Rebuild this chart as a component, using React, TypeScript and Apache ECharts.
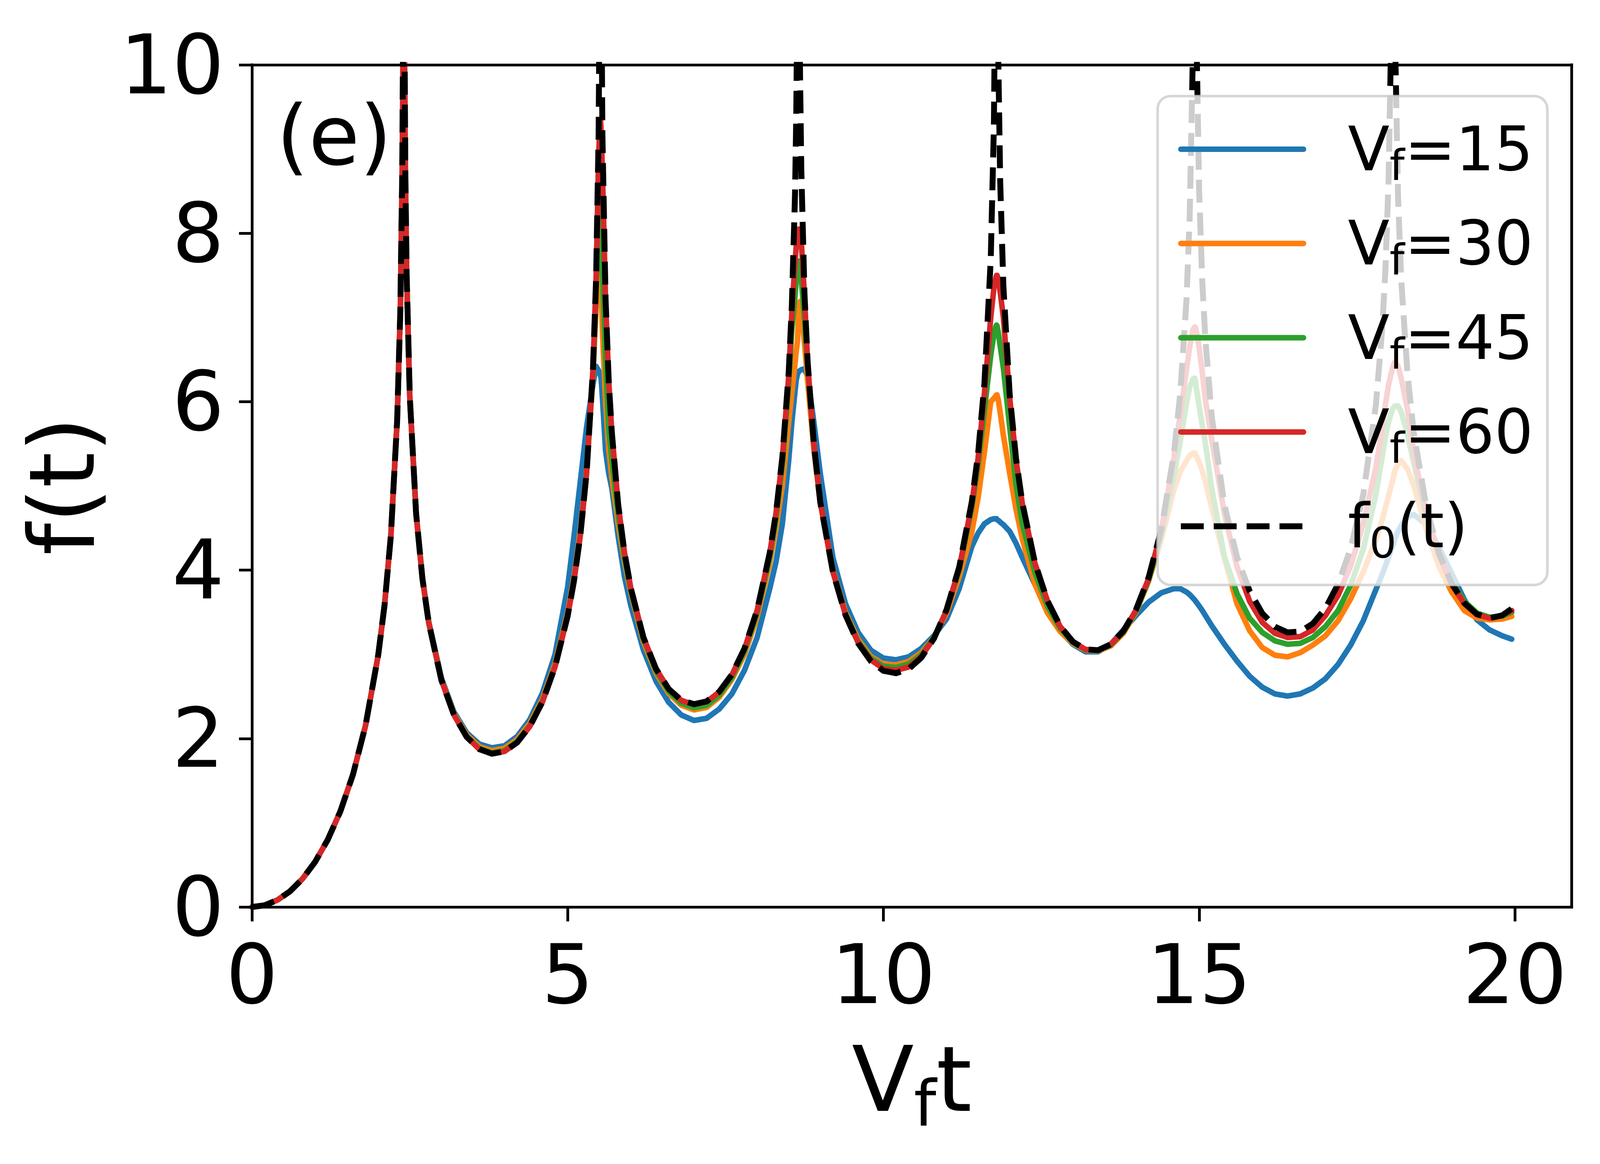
import React, { useEffect, useRef } from "react";
import * as echarts from "echarts";

// Time grid (V_f t)
const T = [
  0, 0.2, 0.4, 0.6, 0.8, 1.0, 1.2, 1.4, 1.6, 1.8,
  2.0, 2.1, 2.2, 2.3, 2.35, 2.38, 2.395, 2.405, 2.415, 2.43,
  2.45, 2.5, 2.6, 2.7, 2.8, 3.0, 3.2, 3.4, 3.6, 3.8,
  4.0, 4.2, 4.4, 4.6, 4.8, 5.0, 5.1, 5.2, 5.3, 5.4,
  5.45, 5.49, 5.51, 5.52, 5.53, 5.55, 5.6, 5.65, 5.7, 5.8,
  5.9, 6.0, 6.2, 6.4, 6.6, 6.8, 7.0, 7.2, 7.4, 7.6,
  7.8, 8.0, 8.2, 8.3, 8.4, 8.5, 8.55, 8.6, 8.62, 8.64,
  8.654, 8.66, 8.68, 8.7, 8.75, 8.8, 8.9, 9.0, 9.2, 9.4,
  9.6, 9.8, 10.0, 10.2, 10.4, 10.6, 10.8, 11.0, 11.2, 11.4,
  11.5, 11.6, 11.7, 11.75, 11.78, 11.792, 11.8, 11.82, 11.85, 11.9,
  12.0, 12.1, 12.2, 12.4, 12.6, 12.8, 13.0, 13.2, 13.4, 13.6,
  13.8, 14.0, 14.2, 14.4, 14.6, 14.7, 14.8, 14.85, 14.9, 14.931,
  14.94, 14.96, 15.0, 15.05, 15.1, 15.2, 15.4, 15.6, 15.8, 16.0,
  16.2, 16.4, 16.6, 16.8, 17.0, 17.2, 17.4, 17.6, 17.8, 17.9,
  17.95, 18.0, 18.04, 18.071, 18.08, 18.1, 18.15, 18.2, 18.3, 18.4,
  18.6, 18.8, 19.0, 19.2, 19.4, 19.6, 19.8, 19.95,
];

// f0(t), black dashed
const F0 = [
  0, 0.020, 0.081, 0.184, 0.334, 0.535, 0.798, 1.135, 1.573, 2.158,
  2.993, 3.584, 4.408, 5.781, 7.08, 8.70, 10.56, 16, 10.48, 8.67,
  7.51, 6.057, 4.670, 3.898, 3.374, 2.694, 2.279, 2.020, 1.874, 1.820,
  1.847, 1.953, 2.144, 2.434, 2.851, 3.456, 3.871, 4.409, 5.157, 6.378,
  7.453, 9.16, 11.35, 16, 11.39, 9.18, 7.226, 6.252, 5.630, 4.779,
  4.207, 3.786, 3.201, 2.827, 2.589, 2.455, 2.408, 2.441, 2.556, 2.760,
  3.070, 3.525, 4.204, 4.685, 5.343, 6.343, 7.140, 8.450, 9.39, 11.19,
  16, 12.74, 9.88, 8.75, 7.288, 6.476, 5.488, 4.808, 3.979, 3.466,
  3.131, 2.920, 2.805, 2.776, 2.826, 2.960, 3.187, 3.530, 4.034, 4.811,
  5.386, 6.219, 7.694, 9.276, 11.84, 16, 12.47, 10.04, 8.604, 7.375,
  6.087, 5.328, 4.799, 4.087, 3.633, 3.335, 3.151, 3.059, 3.049, 3.120,
  3.276, 3.531, 3.913, 4.479, 5.380, 6.088, 7.217, 8.179, 10.10, 16,
  12.56, 10.23, 8.506, 7.423, 6.730, 5.822, 4.774, 4.154, 3.750, 3.487,
  3.329, 3.260, 3.271, 3.364, 3.546, 3.832, 4.258, 4.899, 5.966, 6.877,
  7.566, 8.631, 10.29, 16, 12.78, 10.43, 8.431, 7.455, 6.324, 5.624,
  4.743, 4.198, 3.840, 3.609, 3.476, 3.429, 3.463, 3.542,
];

// V_f = 15 (blue)
const VF15 = [
  0, 0.020, 0.081, 0.184, 0.334, 0.535, 0.798, 1.135, 1.573, 2.158,
  2.993, 3.584, 4.408, 5.781, 7.08, 8.70, 10.1, 10.4, 10.1, 8.6,
  7.48, 6.05, 4.68, 3.91, 3.39, 2.72, 2.315, 2.07, 1.935, 1.89,
  1.915, 2.025, 2.225, 2.54, 3.0, 3.8, 4.4, 5.05, 5.7, 6.2,
  6.42, 6.37, 6.33, 6.31, 6.28, 6.05, 5.42, 5.15, 4.97, 4.4,
  3.92, 3.58, 3.05, 2.68, 2.43, 2.28, 2.215, 2.24, 2.35, 2.53,
  2.81, 3.2, 3.78, 4.1, 4.55, 5.3, 5.75, 6.12, 6.26, 6.33,
  6.35, 6.36, 6.37, 6.38, 6.39, 6.3, 5.75, 5.15, 4.15, 3.6,
  3.26, 3.05, 2.955, 2.935, 2.97, 3.07, 3.22, 3.42, 3.78, 4.28,
  4.44, 4.55, 4.6, 4.61, 4.61, 4.61, 4.6, 4.59, 4.57, 4.54,
  4.46, 4.32, 4.15, 3.83, 3.52, 3.28, 3.12, 3.03, 3.03, 3.12,
  3.29, 3.46, 3.62, 3.73, 3.78, 3.78, 3.74, 3.71, 3.67, 3.645,
  3.635, 3.615, 3.575, 3.52, 3.46, 3.34, 3.12, 2.92, 2.74, 2.61,
  2.53, 2.505, 2.53, 2.6, 2.71, 2.88, 3.11, 3.4, 3.77, 3.95,
  4.05, 4.15, 4.24, 4.3, 4.32, 4.37, 4.46, 4.53, 4.63, 4.66,
  4.54, 4.27, 3.96, 3.65, 3.41, 3.29, 3.22, 3.18,
];

// V_f = 30 (orange)
const VF30 = [
  0, 0.020, 0.081, 0.184, 0.334, 0.535, 0.798, 1.135, 1.573, 2.158,
  2.993, 3.584, 4.408, 5.781, 7.08, 8.70, 10.2, 10.6, 10.2, 8.65,
  7.5, 6.05, 4.67, 3.9, 3.38, 2.705, 2.295, 2.045, 1.905, 1.856,
  1.884, 1.99, 2.18, 2.47, 2.89, 3.5, 3.92, 4.46, 5.18, 6.3,
  7.1, 7.6, 7.72, 7.6, 7.35, 6.85, 6.0, 5.45, 5.1, 4.55,
  4.1, 3.73, 3.15, 2.775, 2.535, 2.395, 2.34, 2.37, 2.49, 2.70,
  3.0, 3.44, 4.08, 4.5, 5.0, 5.75, 6.1, 6.45, 6.6, 6.72,
  6.98, 7.1, 7.19, 7.08, 6.7, 6.25, 5.42, 4.8, 4.0, 3.5,
  3.18, 2.975, 2.885, 2.875, 2.915, 3.02, 3.2, 3.49, 3.92, 4.45,
  4.86, 5.4, 6.0, 6.04, 6.07, 6.08, 6.08, 6.02, 5.87, 5.6,
  5.15, 4.72, 4.37, 3.83, 3.49, 3.27, 3.13, 3.05, 3.04, 3.1,
  3.25, 3.5, 3.87, 4.36, 4.95, 5.17, 5.3, 5.36, 5.39, 5.39,
  5.38, 5.35, 5.28, 5.18, 5.05, 4.74, 4.14, 3.6, 3.28, 3.08,
  2.99, 2.97, 3.02, 3.11, 3.22, 3.4, 3.66, 3.98, 4.36, 4.6,
  4.74, 4.88, 5.0, 5.08, 5.12, 5.18, 5.26, 5.3, 5.2, 5.0,
  4.48, 4.04, 3.74, 3.52, 3.43, 3.41, 3.42, 3.45,
];

// V_f = 45 (green)
const VF45 = [
  0, 0.020, 0.081, 0.184, 0.334, 0.535, 0.798, 1.135, 1.573, 2.158,
  2.993, 3.584, 4.408, 5.781, 7.08, 8.70, 10.3, 11.0, 10.3, 8.67,
  7.51, 6.057, 4.670, 3.898, 3.375, 2.697, 2.284, 2.027, 1.882, 1.830,
  1.857, 1.963, 2.155, 2.445, 2.862, 3.47, 3.885, 4.42, 5.16, 6.35,
  7.3, 8.1, 8.38, 8.35, 8.15, 7.6, 6.5, 5.68, 5.3, 4.65,
  4.15, 3.76, 3.18, 2.80, 2.56, 2.42, 2.365, 2.395, 2.515, 2.725,
  3.04, 3.49, 4.15, 4.62, 5.25, 6.2, 6.85, 7.25, 7.45, 7.6,
  7.66, 7.67, 7.62, 7.45, 6.98, 6.42, 5.49, 4.81, 3.99, 3.48,
  3.155, 2.955, 2.86, 2.845, 2.885, 2.995, 3.2, 3.52, 4.0, 4.74,
  5.25, 5.9, 6.55, 6.8, 6.89, 6.91, 6.9, 6.82, 6.66, 6.4,
  5.7, 5.02, 4.55, 3.97, 3.57, 3.31, 3.14, 3.055, 3.045, 3.11,
  3.265, 3.51, 3.88, 4.42, 5.12, 5.52, 5.98, 6.17, 6.27, 6.28,
  6.25, 6.14, 5.95, 5.72, 5.5, 4.97, 4.16, 3.72, 3.43, 3.26,
  3.16, 3.12, 3.13, 3.2, 3.33, 3.52, 3.82, 4.25, 4.9, 5.35,
  5.58, 5.76, 5.86, 5.92, 5.93, 5.95, 5.95, 5.88, 5.61, 5.27,
  4.62, 4.17, 3.86, 3.63, 3.49, 3.44, 3.455, 3.5,
];

// V_f = 60 (red)
const VF60 = [
  0, 0.020, 0.081, 0.184, 0.334, 0.535, 0.798, 1.135, 1.573, 2.158,
  2.993, 3.584, 4.408, 5.781, 7.08, 8.70, 10.4, 11.5, 10.4, 8.67,
  7.51, 6.057, 4.670, 3.898, 3.374, 2.694, 2.279, 2.020, 1.874, 1.820,
  1.847, 1.953, 2.144, 2.434, 2.851, 3.456, 3.871, 4.409, 5.157, 6.378,
  7.45, 8.9, 9.3, 9.35, 9.2, 8.75, 7.2, 6.25, 5.630, 4.779,
  4.207, 3.786, 3.201, 2.826, 2.587, 2.452, 2.404, 2.437, 2.552, 2.755,
  3.065, 3.52, 4.20, 4.68, 5.33, 6.3, 7.05, 7.65, 7.85, 8.0,
  8.04, 8.05, 8.03, 7.9, 7.25, 6.47, 5.49, 4.81, 3.98, 3.47,
  3.14, 2.935, 2.83, 2.81, 2.85, 2.975, 3.19, 3.52, 4.02, 4.78,
  5.33, 6.1, 7.0, 7.35, 7.47, 7.5, 7.5, 7.45, 7.3, 7.0,
  6.05, 5.31, 4.79, 4.08, 3.63, 3.33, 3.15, 3.058, 3.048, 3.118,
  3.272, 3.525, 3.90, 4.46, 5.33, 5.85, 6.38, 6.65, 6.85, 6.89,
  6.88, 6.82, 6.64, 6.35, 6.02, 5.55, 4.67, 4.04, 3.63, 3.38,
  3.25, 3.2, 3.21, 3.29, 3.46, 3.70, 4.05, 4.55, 5.22, 5.7,
  5.97, 6.2, 6.33, 6.42, 6.44, 6.47, 6.42, 6.28, 5.91, 5.38,
  4.68, 4.17, 3.83, 3.60, 3.47, 3.43, 3.46, 3.52,
];

const X_TICKS = [0, 5, 10, 15, 20];
const SERIES_NAMES = ["Vf=15", "Vf=30", "Vf=45", "Vf=60", "f0(t)"];
const LEGEND_RICH = [
  "{m|V}{s|f}{m|=15}",
  "{m|V}{s|f}{m|=30}",
  "{m|V}{s|f}{m|=45}",
  "{m|V}{s|f}{m|=60}",
  "{m|f}{s|0}{m|(t)}",
];
const COLORS = ["#1f77b4", "#ff7f0e", "#2ca02c", "#d62728", "#000000"];

const FONT = "DejaVu Sans";
const REF_W = 4579;
const REF_H = 2980;

export default function App() {
  const ref = useRef<HTMLDivElement>(null);

  useEffect(() => {
    const el = ref.current;
    if (!el) return;
    const vw = window.innerWidth || document.documentElement.clientWidth || REF_W;
    const vh = window.innerHeight || document.documentElement.clientHeight || REF_H;
    // fill the real viewport; reference coordinates are mapped per axis
    const sx = Math.min(vw / REF_W, 1.5);
    const sy = Math.min(vh / REF_H, 1.5);
    const fs = Math.sqrt(sx * sy); // text / stroke scale
    const W = Math.round(REF_W * sx);
    const H = Math.round(REF_H * sy);
    el.style.width = W + "px";
    el.style.height = H + "px";
    const X = (v: number) => v * sx;
    const Y = (v: number) => v * sy;
    const F = (v: number) => v * fs;
    // keep legend box right edge where the reference has it even though text scales by fs
    const legendRightPad = Math.max(F(12), X(69) - (fs - sx) * 500);

    const chart = echarts.init(el, null, { renderer: "svg", width: W, height: H });
    const valuesList = [VF15, VF30, VF45, VF60, F0];

    const series = valuesList.map((ys, i) => ({
      name: SERIES_NAMES[i],
      type: "line",
      xAxisIndex: 0,
      yAxisIndex: 0,
      data: T.map((t, k) => [t, ys[k]]),
      symbol: "none",
      showSymbol: false,
      clip: true,
      silent: true,
      lineStyle: {
        color: COLORS[i],
        width: F(i === 4 ? 16 : 15),
        type: i === 4 ? [F(62), F(27)] : "solid",
        join: "round",
        cap: i === 4 ? "butt" : "round",
      },
      itemStyle: { color: COLORS[i] },
      emphasis: { disabled: true },
    }));

    const axisLineStyle = { color: "#000", width: F(7.5), cap: "square" };

    const option = {
      animation: false,
      backgroundColor: "#ffffff",
      textStyle: { fontFamily: FONT, color: "#000" },
      grid: { left: X(721), top: Y(166), width: X(3777), height: Y(2156), containLabel: false },
      xAxis: [
        {
          type: "value",
          position: "bottom",
          min: 0,
          max: 20.9,
          z: 10,
          axisLine: { show: true, onZero: false, lineStyle: axisLineStyle },
          axisTick: {
            show: true,
            length: Y(37),
            customValues: X_TICKS,
            lineStyle: { color: "#000", width: F(7.5) },
          },
          axisLabel: {
            show: true,
            customValues: X_TICKS,
            fontSize: F(222),
            fontFamily: FONT,
            color: "#000",
            margin: Y(170) - F(107),
          },
          splitLine: { show: false },
          name: "{m|V}{s|f}{m|t}",
          nameLocation: "middle",
          nameGap: Y(437.5) - F(140.5),
          nameTextStyle: {
            fontFamily: FONT,
            fontSize: F(246),
            color: "#000",
            rich: {
              m: { fontFamily: FONT, fontSize: F(246), lineHeight: F(290), color: "#000" },
              s: {
                fontFamily: FONT,
                fontSize: F(172),
                height: F(172),
                lineHeight: F(290),
                verticalAlign: "top",
                padding: [F(123.5), 0, 0, 0],
                color: "#000",
              },
            },
          },
        },
        {
          type: "value",
          position: "top",
          min: 0,
          max: 20.9,
          z: 10,
          axisLine: { show: true, onZero: false, lineStyle: axisLineStyle },
          axisTick: { show: false },
          axisLabel: { show: false },
          splitLine: { show: false },
        },
      ],
      yAxis: [
        {
          type: "value",
          position: "left",
          min: 0,
          max: 10,
          interval: 2,
          z: 10,
          axisLine: { show: true, onZero: false, lineStyle: axisLineStyle },
          axisTick: { show: true, length: X(37), lineStyle: { color: "#000", width: F(7.5) } },
          axisLabel: {
            show: true,
            fontSize: F(222),
            fontFamily: FONT,
            color: "#000",
            margin: X(95) - F(15),
          },
          splitLine: { show: false },
          name: "f(t)",
          nameLocation: "middle",
          nameGap: X(534) - F(115),
          nameTextStyle: { fontFamily: FONT, fontSize: F(246), lineHeight: F(246), color: "#000" },
        },
        {
          type: "value",
          position: "right",
          min: 0,
          max: 10,
          interval: 2,
          z: 10,
          axisLine: { show: true, onZero: false, lineStyle: axisLineStyle },
          axisTick: { show: false },
          axisLabel: { show: false },
          splitLine: { show: false },
        },
      ],
      legend: {
        show: true,
        orient: "vertical",
        align: "left",
        left: X(3313),
        top: Y(246),
        padding: [Y(36), legendRightPad, Y(54), X(58)],
        itemWidth: X(351),
        itemHeight: F(16),
        itemGap: Y(45),
        selectedMode: false,
        backgroundColor: "rgba(255,255,255,0.8)",
        borderColor: "rgba(204,204,204,0.8)",
        borderWidth: F(7),
        borderRadius: F(35),
        itemStyle: { color: "rgba(0,0,0,0)", borderWidth: 0, opacity: 0 },
        lineStyle: { width: F(15) },
        data: SERIES_NAMES.map((n, i) =>
          i === 4
            ? { name: n, lineStyle: { width: F(16), type: [F(62), F(27)], color: "#000" } }
            : { name: n, lineStyle: { width: F(15), color: COLORS[i] } }
        ),
        formatter: (name: string) => LEGEND_RICH[SERIES_NAMES.indexOf(name)],
        textStyle: {
          fontFamily: FONT,
          fontSize: F(165),
          color: "#000",
          padding: [0, 0, 0, X(127) - 5],
          rich: {
            m: { fontFamily: FONT, fontSize: F(165), lineHeight: Y(200), color: "#000" },
            s: {
              fontFamily: FONT,
              fontSize: F(115.5),
              height: F(115.5),
              lineHeight: Y(200),
              verticalAlign: "top",
              padding: [Y(100) - F(13.65), 0, 0, 0],
              color: "#000",
            },
          },
        },
      },
      graphic: {
        elements: [
          {
            type: "text",
            x: X(811) - F(19),
            y: Y(354.5) - F(7),
            silent: true,
            z: 20,
            style: {
              text: "(e)",
              fontFamily: FONT,
              fontSize: F(224),
              fill: "#000",
              align: "left",
              verticalAlign: "middle",
            },
          },
        ],
      },
      series,
    };

    chart.setOption(option as any);
    return () => {
      chart.dispose();
    };
  }, []);

  return (
    <div
      ref={ref}
      style={{
        position: "fixed",
        left: 0,
        top: 0,
        width: "100vw",
        height: "100vh",
        background: "#ffffff",
      }}
    />
  );
}
